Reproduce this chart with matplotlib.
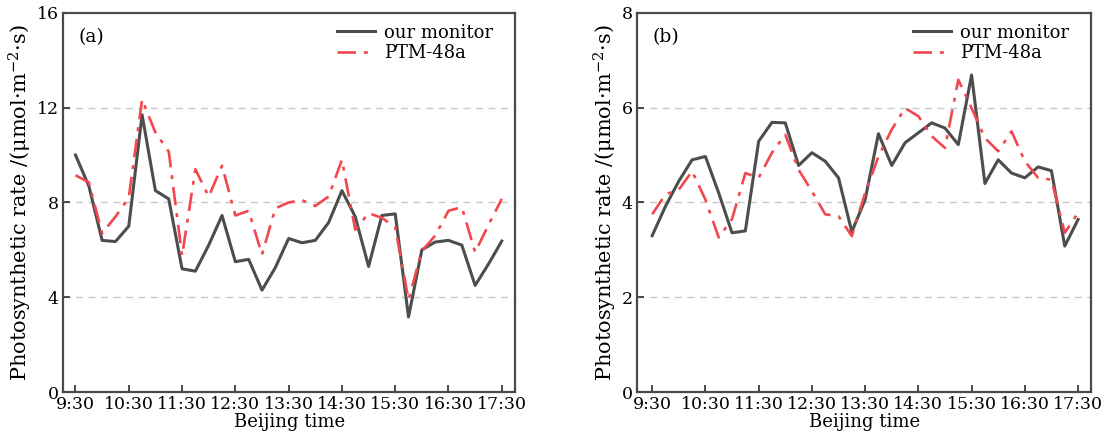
import numpy as np
import matplotlib
matplotlib.use("Agg")
import matplotlib.pyplot as plt

# sampling every 15 min from 9:30 to 17:30 (minutes after 9:30)
minutes = list(range(0, 481, 15))
hour_ticks = [0, 60, 120, 180, 240, 300, 360, 420, 480]
hour_labels = ["9:30", "10:30", "11:30", "12:30", "13:30", "14:30", "15:30", "16:30", "17:30"]

# (a)
monitor_a = [10.0, 8.7, 6.4, 6.35, 7.0, 11.7, 8.5, 8.15, 5.2, 5.1, 6.2, 7.45, 5.5, 5.6, 4.3,
             5.25, 6.48, 6.3, 6.4, 7.15, 8.5, 7.4, 5.3, 7.45, 7.52, 3.17, 6.0, 6.33, 6.4,
             6.2, 4.5, 5.4, 6.37]
ptm_a = [9.15, 8.85, 6.7, 7.4, 8.2, 12.35, 10.95, 10.15, 5.75, 9.4, 8.25, 9.55, 7.45, 7.65,
         5.8, 7.75, 8.0, 8.1, 7.85, 8.25, 9.8, 6.85, 7.55, 7.35, 6.95, 3.9, 5.95, 6.6, 7.65,
         7.8, 5.9, 7.05, 8.15]

# (b)
monitor_b = [3.3, 3.92, 4.45, 4.9, 4.97, 4.2, 3.36, 3.4, 5.29, 5.69, 5.68, 4.78, 5.05, 4.87,
             4.52, 3.38, 4.06, 5.45, 4.78, 5.26, 5.47, 5.68, 5.57, 5.22, 6.69, 4.4, 4.9, 4.62,
             4.52, 4.75, 4.67, 3.08, 3.64]
ptm_b = [3.75, 4.17, 4.27, 4.66, 4.06, 3.26, 3.65, 4.62, 4.52, 5.05, 5.43, 4.69, 4.24, 3.75,
         3.71, 3.29, 4.2, 4.97, 5.54, 5.99, 5.82, 5.4, 5.15, 6.59, 5.99, 5.36, 5.08, 5.5,
         4.87, 4.52, 4.48, 3.36, 3.78]

plt.rcParams["font.family"] = ["DejaVu Serif"]
plt.rcParams["mathtext.fontset"] = "dejavuserif"

fig = plt.figure(figsize=(11.08, 4.44), dpi=100)
ax1 = fig.add_axes([0.0569, 0.117, 0.408, 0.854])
ax2 = fig.add_axes([0.575, 0.117, 0.410, 0.854])

spine_c = "#4a4a4a"
panels = [
    (ax1, monitor_a, ptm_a, 16, [0, 4, 8, 12, 16], "(a)", -14),
    (ax2, monitor_b, ptm_b, 8, [0, 2, 4, 6, 8], "(b)", -17),
]
for ax, mon, ptm, ymax, yt, tag, xlo in panels:
    ax.plot(minutes, mon, color="#4d4d4d", lw=2.2, label="our monitor", zorder=3)
    ax.plot(minutes, ptm, color="#f2474f", lw=1.9, ls=(0, (7, 3, 1.5, 3)), label="PTM-48a", zorder=4)
    ax.set_xlim(xlo, 495)
    ax.set_ylim(0, ymax)
    ax.set_yticks(yt)
    ax.set_xticks(hour_ticks)
    ax.set_xticklabels(hour_labels)
    for v in yt[1:-1]:
        ax.axhline(v, color="#c8c8c8", lw=1.0, ls=(0, (5, 4)), zorder=1)
    ax.tick_params(direction="in", length=5, width=1.4, color=spine_c, labelsize=12.5, pad=3)
    for s in ax.spines.values():
        s.set_color(spine_c)
        s.set_linewidth(1.6)
    ax.set_xlabel("Beijing time", fontsize=13, labelpad=0)
    ax.set_ylabel(r"Photosynthetic rate /(μmol·m$^{-2}$·s)", fontsize=15, labelpad=2)
    ax.text(0.035, 0.96, tag, transform=ax.transAxes, fontsize=13.5, va="top", ha="left")
    ax.legend(loc="upper right", frameon=False, fontsize=13, handlelength=2.1,
              handletextpad=0.5, labelspacing=0.15, borderaxespad=0.2,
              bbox_to_anchor=(0.975, 1.0))

fig.savefig("out.png", dpi=100)
